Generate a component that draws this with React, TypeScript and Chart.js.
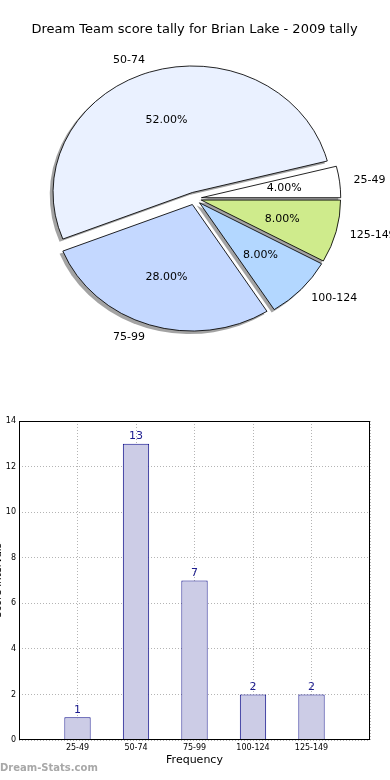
import React, { useEffect, useRef } from 'react';
import { Chart, registerables } from 'chart.js';

Chart.register(...registerables);

// ---------- data ----------
const TITLE = 'Dream Team score tally for Brian Lake - 2009 tally';
const pieLabels = ['25-49', '50-74', '75-99', '100-124', '125-149'];
const pieValues = [1, 13, 7, 2, 2];
const pieColors = ['#ffffff', '#eaf1ff', '#c4d8ff', '#b3d7ff', '#cfeb8c'];

const barCategories = ['25-49', '50-74', '75-99', '100-124', '125-149'];
const barValues = [1, 13, 7, 2, 2];
const yMin = 0;
const yMax = 14;
const yStep = 2;
const xAxisTitle = 'Frequency';
const yAxisTitle = 'Score Intervals';
const WATERMARK = 'Dream-Stats.com';

// ---------- style ----------
const FONT = 'DejaVu Sans';
const RX = 139.3;
const RY = 126.5;
const EXPLODE = 0.05;

Chart.defaults.font.family = FONT;
Chart.defaults.color = '#000';

const piePlugin = {
  id: 'mplPie',
  beforeDatasetsDraw(chart: any) {
    const ctx = chart.ctx as CanvasRenderingContext2D;
    const meta = chart.getDatasetMeta(0);
    const arcs = meta.data as any[];
    const labels = chart.data.labels as string[];
    const values = chart.data.datasets[0].data as number[];
    const total = values.reduce((a, b) => a + b, 0);
    const sy = RY / RX;

    const place = (arc: any) => {
      const mid = (arc.startAngle + arc.endAngle) / 2;
      const e = EXPLODE * arc.outerRadius;
      ctx.translate(arc.x, arc.y);
      ctx.scale(1, sy);
      ctx.translate(Math.cos(mid) * e, Math.sin(mid) * e);
      ctx.translate(-arc.x, -arc.y);
    };

    // shadows (all below the wedges)
    arcs.forEach((arc) => {
      ctx.save();
      ctx.translate(-2.8, 2.6);
      place(arc);
      ctx.beginPath();
      ctx.moveTo(arc.x, arc.y);
      ctx.arc(arc.x, arc.y, arc.outerRadius + 0.5, arc.startAngle, arc.endAngle);
      ctx.closePath();
      ctx.fillStyle = 'rgba(0,0,0,0.36)';
      ctx.fill();
      ctx.restore();
    });

    // wedges
    arcs.forEach((arc) => {
      ctx.save();
      place(arc);
      arc.draw(ctx);
      ctx.restore();
    });

    // labels
    ctx.save();
    ctx.fillStyle = '#000';
    ctx.font = `11px "${FONT}"`;
    ctx.textBaseline = 'middle';
    arcs.forEach((arc, i) => {
      const mid = (arc.startAngle + arc.endAngle) / 2;
      const c = Math.cos(mid);
      const s = Math.sin(mid);
      const lx = arc.x + c * (1.1 + EXPLODE) * RX;
      const ly = arc.y + s * (1.1 + EXPLODE) * RY;
      ctx.textAlign = c >= 0 ? 'left' : 'right';
      ctx.fillText(labels[i], lx, ly);
      const px = arc.x + c * (0.6 + EXPLODE) * RX;
      const py = arc.y + s * (0.6 + EXPLODE) * RY;
      ctx.textAlign = 'center';
      ctx.fillText(((values[i] / total) * 100).toFixed(2) + '%', px, py);
    });
    ctx.restore();
    return false;
  },
};

const barPlugin = {
  id: 'mplBar',
  afterDraw(chart: any) {
    const ctx = chart.ctx as CanvasRenderingContext2D;
    const a = chart.chartArea;
    ctx.save();
    // value labels
    const meta = chart.getDatasetMeta(0);
    ctx.fillStyle = '#1c1c8e';
    ctx.font = `11px "${FONT}"`;
    ctx.textAlign = 'center';
    ctx.textBaseline = 'alphabetic';
    meta.data.forEach((bar: any, i: number) => {
      ctx.fillText(String(barValues[i]), bar.x, bar.y - 4.5);
    });
    // frame
    ctx.strokeStyle = '#000';
    ctx.lineWidth = 1;
    const l = Math.round(a.left) + 0.5;
    const t = Math.round(a.top) + 0.5;
    const r = Math.round(a.right) - 0.5;
    const b = Math.round(a.bottom) - 0.5;
    ctx.strokeRect(l, t, r - l, b - t);
    ctx.restore();
  },
};

export default function App() {
  const pieRef = useRef<HTMLCanvasElement>(null);
  const barRef = useRef<HTMLCanvasElement>(null);

  useEffect(() => {
    const revLabels = [...pieLabels].reverse();
    const revValues = [...pieValues].reverse();
    const revColors = [...pieColors].reverse();
    const pie = new Chart(pieRef.current as HTMLCanvasElement, {
      type: 'pie',
      data: {
        labels: revLabels,
        datasets: [
          {
            data: revValues,
            backgroundColor: revColors,
            borderColor: '#000',
            borderWidth: 0.9,
            clip: false,
          } as any,
        ],
      },
      options: {
        animation: false,
        responsive: false,
        rotation: 90,
        radius: RX,
        layout: { padding: { top: 0, left: 0, right: 1, bottom: 50.6 } },
        plugins: {
          legend: { display: false },
          tooltip: { enabled: false },
          title: {
            display: true,
            text: TITLE,
            color: '#000',
            font: { family: FONT, size: 13, weight: 'normal' },
            padding: { top: 22, bottom: 10 },
          },
        },
      } as any,
      plugins: [piePlugin],
    });

    const gridColor = '#b4b4b4';
    const bar = new Chart(barRef.current as HTMLCanvasElement, {
      type: 'bar',
      data: {
        datasets: [
          {
            data: barValues.map((v, i) => ({ x: i, y: v })),
            backgroundColor: '#ccccE6',
            borderColor: '#0c0c8a',
            borderWidth: 1,
            barPercentage: 0.45,
            categoryPercentage: 1,
          } as any,
        ],
      },
      options: {
        animation: false,
        responsive: false,
        layout: { padding: { top: 21, right: 20, left: 0, bottom: 0 } },
        plugins: { legend: { display: false }, tooltip: { enabled: false } },
        scales: {
          x: {
            type: 'linear',
            min: -1,
            max: 5,
            offset: false,
            z: 1,
            afterFit: (s: any) => {
              s.height = 40;
            },
            ticks: {
              stepSize: 1,
              autoSkip: false,
              maxRotation: 0,
              padding: 3,
              color: '#000',
              font: { family: FONT, size: 8 },
              callback: (v: any) => barCategories[v] ?? '',
            },
            grid: { color: gridColor, lineWidth: 1, drawTicks: false, offset: false },
            border: { display: false, dash: [1, 2] },
            title: {
              display: true,
              text: xAxisTitle,
              color: '#000',
              font: { family: FONT, size: 11 },
              padding: { top: 0, bottom: 13 },
            },
          },
          y: {
            min: yMin,
            max: yMax,
            z: 1,
            afterFit: (s: any) => {
              s.width = 29;
            },
            ticks: {
              stepSize: yStep,
              padding: 3,
              color: '#000',
              font: { family: FONT, size: 8 },
            },
            grid: { color: gridColor, lineWidth: 1, drawTicks: false },
            border: { display: false, dash: [1, 2] },
            title: {
              display: true,
              text: yAxisTitle,
              color: '#000',
              font: { family: FONT, size: 10 },
              padding: { top: 2, bottom: 0 },
            },
          },
        },
      } as any,
      plugins: [barPlugin],
    });

    return () => {
      pie.destroy();
      bar.destroy();
    };
  }, []);

  return (
    <div style={{ position: 'absolute', left: 0, top: 0, width: 390, height: 780, overflow: 'hidden', background: '#fff' }}>
      <canvas ref={pieRef} width={390} height={400} style={{ position: 'absolute', left: 0, top: 0, width: 390, height: 400 }} />
      <canvas ref={barRef} width={400} height={380} style={{ position: 'absolute', left: -10, top: 400, width: 400, height: 380 }} />
      <div
        style={{
          position: 'absolute',
          left: 0,
          top: 762,
          font: `bold 10px "${FONT}"`,
          lineHeight: '12px',
          color: '#a8a8a8',
          whiteSpace: 'nowrap',
        }}
      >
        {WATERMARK}
      </div>
    </div>
  );
}
